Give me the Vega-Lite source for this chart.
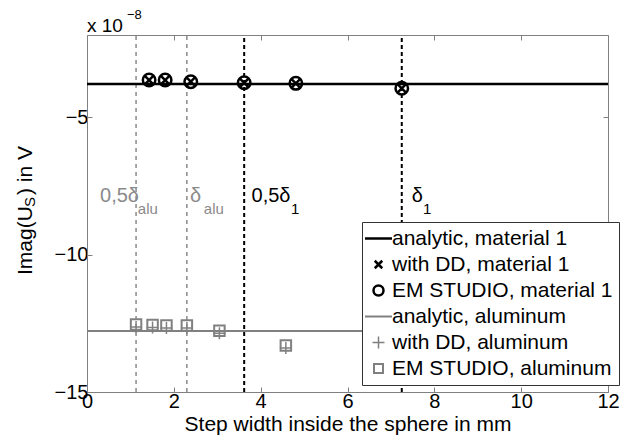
{
  "$schema": "https://vega.github.io/schema/vega-lite/v6.json",
  "width": 521,
  "height": 357,
  "autosize": {"type": "none"},
  "padding": {"left": 87, "top": 35, "right": 30, "bottom": 52},
  "background": "white",
  "datasets": {
    "pts": [
      {"x": 1.43, "y": -3.64, "series": "with DD, material 1"},
      {"x": 1.80, "y": -3.64, "series": "with DD, material 1"},
      {"x": 2.39, "y": -3.70, "series": "with DD, material 1"},
      {"x": 3.62, "y": -3.74, "series": "with DD, material 1"},
      {"x": 4.81, "y": -3.76, "series": "with DD, material 1"},
      {"x": 7.25, "y": -3.94, "series": "with DD, material 1"},
      {"x": 1.43, "y": -3.64, "series": "EM STUDIO, material 1"},
      {"x": 1.80, "y": -3.64, "series": "EM STUDIO, material 1"},
      {"x": 2.39, "y": -3.70, "series": "EM STUDIO, material 1"},
      {"x": 3.62, "y": -3.74, "series": "EM STUDIO, material 1"},
      {"x": 4.81, "y": -3.76, "series": "EM STUDIO, material 1"},
      {"x": 7.25, "y": -3.94, "series": "EM STUDIO, material 1"},
      {"x": 1.13, "y": -12.63, "series": "with DD, aluminum"},
      {"x": 1.51, "y": -12.65, "series": "with DD, aluminum"},
      {"x": 1.83, "y": -12.67, "series": "with DD, aluminum"},
      {"x": 2.30, "y": -12.67, "series": "with DD, aluminum"},
      {"x": 3.05, "y": -12.86, "series": "with DD, aluminum"},
      {"x": 4.58, "y": -13.40, "series": "with DD, aluminum"},
      {"x": 1.13, "y": -12.54, "series": "EM STUDIO, aluminum"},
      {"x": 1.51, "y": -12.56, "series": "EM STUDIO, aluminum"},
      {"x": 1.83, "y": -12.58, "series": "EM STUDIO, aluminum"},
      {"x": 2.30, "y": -12.58, "series": "EM STUDIO, aluminum"},
      {"x": 3.05, "y": -12.77, "series": "EM STUDIO, aluminum"},
      {"x": 4.58, "y": -13.31, "series": "EM STUDIO, aluminum"}
    ],
    "lines": [
      {"x": 0, "y": -3.78, "series": "analytic, material 1"},
      {"x": 12, "y": -3.78, "series": "analytic, material 1"},
      {"x": 0, "y": -12.78, "series": "analytic, aluminum"},
      {"x": 12, "y": -12.78, "series": "analytic, aluminum"}
    ],
    "delta": [
      {"x": 1.13, "g": "alu"},
      {"x": 2.30, "g": "alu"},
      {"x": 3.62, "g": "mat1"},
      {"x": 7.25, "g": "mat1"}
    ],
    "ann": [
      {"x": 0.30, "y": -8.08, "t": "0,5δ", "g": "alu", "k": "main"},
      {"x": 1.17, "y": -8.52, "t": "alu", "g": "alu", "k": "sub"},
      {"x": 2.37, "y": -8.08, "t": "δ", "g": "alu", "k": "main"},
      {"x": 2.69, "y": -8.52, "t": "alu", "g": "alu", "k": "sub"},
      {"x": 3.79, "y": -8.08, "t": "0,5δ", "g": "mat1", "k": "main"},
      {"x": 4.70, "y": -8.52, "t": "1", "g": "mat1", "k": "sub"},
      {"x": 7.48, "y": -8.08, "t": "δ", "g": "mat1", "k": "main"},
      {"x": 7.74, "y": -8.52, "t": "1", "g": "mat1", "k": "sub"},
      {"x": 0.0, "y": -1.9, "t": "x 10", "g": "exp", "k": "main"},
      {"x": 0.92, "y": -1.4, "t": "−8", "g": "exp", "k": "sup"},
      {"x": -1.267, "y": -10.74, "t": "Imag(U", "g": "ytitle", "k": "main"},
      {"x": -1.19, "y": -8.26, "t": "S", "g": "ytitle", "k": "sub"},
      {"x": -1.267, "y": -7.83, "t": ") in V", "g": "ytitle", "k": "main"}
    ]
  },
  "layer": [
    {
      "data": {"name": "delta"},
      "encoding": {
        "x": {"field": "x", "type": "quantitative", "scale": {"domain": [0, 12], "nice": false, "zero": false},
              "axis": {"orient": "top", "values": [0, 2, 4, 6, 8, 10, 12], "labels": false, "domain": false, "title": null, "tickSize": -5, "grid": false}},
        "y": {"datum": -15, "type": "quantitative", "scale": {"domain": [-15, -2], "nice": false, "zero": false},
              "axis": {"orient": "right", "values": [-15, -10, -5], "labels": false, "domain": false, "title": null, "tickSize": -5, "grid": false}},
        "y2": {"datum": -2}
      },
      "layer": [
        {
          "transform": [{"filter": "datum.g == 'alu'"}],
          "mark": {"type": "rule", "color": "#8a8a8a", "strokeWidth": 1.5, "strokeDash": [4, 4]}
        },
        {
          "transform": [{"filter": "datum.g == 'mat1'"}],
          "mark": {"type": "rule", "color": "#000000", "strokeWidth": 2, "strokeDash": [4, 3]}
        }
      ]
    },
    {
      "encoding": {
        "x": {"field": "x", "type": "quantitative", "scale": {"domain": [0, 12], "nice": false, "zero": false},
              "axis": {"orient": "bottom", "values": [0, 2, 4, 6, 8, 10, 12], "format": "d", "title": "Step width inside the sphere in mm", "tickSize": -5, "labelPadding": 4, "titlePadding": 2, "labelFlush": false, "labelOverlap": false, "grid": false}},
        "y": {"field": "y", "type": "quantitative", "scale": {"domain": [-15, -2], "nice": false, "zero": false},
              "axis": {"orient": "left", "values": [-15, -10, -5], "format": "d", "title": null, "tickSize": -5, "labelPadding": 4, "labelFlush": false, "labelOverlap": false, "grid": false}},
        "color": {
          "field": "series", "type": "nominal",
          "scale": {
            "domain": ["analytic, material 1", "with DD, material 1", "EM STUDIO, material 1", "analytic, aluminum", "with DD, aluminum", "EM STUDIO, aluminum"],
            "range": ["#000000", "#000000", "#000000", "#808080", "#808080", "#808080"]
          },
          "legend": {
            "orient": "none", "legendX": 275, "legendY": 187, "title": null, "direction": "vertical",
            "labelFont": "Liberation Sans", "labelFontSize": 21, "labelColor": "#000000", "labelLimit": 400,
            "symbolSize": 729, "labelOffset": 3, "rowPadding": 4, "padding": 6,
            "strokeColor": "#333333", "fillColor": "#ffffff",
            "encode": {
              "symbols": {
                "update": {
                  "shape": {"signal": "datum.value == 'with DD, material 1' ? 'M-1,-1L1,1M1,-1L-1,1' : datum.value == 'EM STUDIO, material 1' ? 'circle' : datum.value == 'with DD, aluminum' ? 'M-1,0L1,0M0,-1L0,1' : datum.value == 'EM STUDIO, aluminum' ? 'square' : 'stroke'"},
                  "size": {"signal": "datum.value == 'with DD, material 1' ? 56 : datum.value == 'EM STUDIO, material 1' ? 100 : datum.value == 'with DD, aluminum' ? 144 : datum.value == 'EM STUDIO, aluminum' ? 81 : 729"},
                  "strokeWidth": {"signal": "datum.value == 'with DD, aluminum' ? 1.5 : (datum.value == 'EM STUDIO, aluminum' || datum.value == 'analytic, aluminum') ? 2 : 2.5"},
                  "stroke": {"signal": "indexof(['analytic, aluminum', 'with DD, aluminum', 'EM STUDIO, aluminum'], datum.value) >= 0 ? '#808080' : '#000000'"},
                  "fill": {"value": "transparent"},
                  "opacity": {"value": 1}
                }
              }
            }
          }
        }
      },
      "layer": [
        {
          "data": {"name": "lines"},
          "transform": [{"filter": "datum.series == 'analytic, aluminum'"}],
          "mark": {"type": "line", "strokeWidth": 2}
        },
        {
          "data": {"name": "lines"},
          "transform": [{"filter": "datum.series == 'analytic, material 1'"}],
          "mark": {"type": "line", "strokeWidth": 2.5}
        },
        {
          "data": {"name": "pts"},
          "transform": [{"filter": "datum.series == 'EM STUDIO, aluminum'"}],
          "mark": {"type": "point", "shape": "square", "size": 110, "strokeWidth": 2, "filled": false, "opacity": 1}
        },
        {
          "data": {"name": "pts"},
          "transform": [{"filter": "datum.series == 'with DD, aluminum'"}],
          "mark": {"type": "point", "shape": "M-1,0L1,0M0,-1L0,1", "size": 144, "strokeWidth": 1.5, "filled": false, "opacity": 1}
        },
        {
          "data": {"name": "pts"},
          "transform": [{"filter": "datum.series == 'EM STUDIO, material 1'"}],
          "mark": {"type": "point", "shape": "circle", "size": 156, "strokeWidth": 2.5, "filled": false, "opacity": 1}
        },
        {
          "data": {"name": "pts"},
          "transform": [{"filter": "datum.series == 'with DD, material 1'"}],
          "mark": {"type": "point", "shape": "M-1,-1L1,1M1,-1L-1,1", "size": 64, "strokeWidth": 2.5, "filled": false, "opacity": 1}
        },
        {
          "data": {"name": "ann"},
          "transform": [{"filter": "datum.g == 'alu' && datum.k == 'main'"}],
          "mark": {"type": "text", "align": "left", "baseline": "alphabetic", "font": "Liberation Sans", "fontSize": 20},
          "encoding": {"text": {"field": "t"}, "color": {"value": "#8a8a8a"}}
        },
        {
          "data": {"name": "ann"},
          "transform": [{"filter": "datum.g == 'alu' && datum.k == 'sub'"}],
          "mark": {"type": "text", "align": "left", "baseline": "alphabetic", "font": "Liberation Sans", "fontSize": 15},
          "encoding": {"text": {"field": "t"}, "color": {"value": "#8a8a8a"}}
        },
        {
          "data": {"name": "ann"},
          "transform": [{"filter": "datum.g == 'mat1' && datum.k == 'main'"}],
          "mark": {"type": "text", "align": "left", "baseline": "alphabetic", "font": "Liberation Sans", "fontSize": 20},
          "encoding": {"text": {"field": "t"}, "color": {"value": "#000000"}}
        },
        {
          "data": {"name": "ann"},
          "transform": [{"filter": "datum.g == 'mat1' && datum.k == 'sub'"}],
          "mark": {"type": "text", "align": "left", "baseline": "alphabetic", "font": "Liberation Sans", "fontSize": 15},
          "encoding": {"text": {"field": "t"}, "color": {"value": "#000000"}}
        },
        {
          "data": {"name": "ann"},
          "transform": [{"filter": "datum.g == 'exp' && datum.k == 'main'"}],
          "mark": {"type": "text", "align": "left", "baseline": "alphabetic", "font": "Liberation Sans", "fontSize": 19},
          "encoding": {"text": {"field": "t"}, "color": {"value": "#000000"}}
        },
        {
          "data": {"name": "ann"},
          "transform": [{"filter": "datum.g == 'exp' && datum.k == 'sup'"}],
          "mark": {"type": "text", "align": "left", "baseline": "alphabetic", "font": "Liberation Sans", "fontSize": 13},
          "encoding": {"text": {"field": "t"}, "color": {"value": "#000000"}}
        },
        {
          "data": {"name": "ann"},
          "transform": [{"filter": "datum.g == 'ytitle' && datum.k == 'main'"}],
          "mark": {"type": "text", "align": "left", "baseline": "alphabetic", "angle": 270, "font": "Liberation Sans", "fontSize": 21},
          "encoding": {"text": {"field": "t"}, "color": {"value": "#000000"}}
        },
        {
          "data": {"name": "ann"},
          "transform": [{"filter": "datum.g == 'ytitle' && datum.k == 'sub'"}],
          "mark": {"type": "text", "align": "left", "baseline": "alphabetic", "angle": 270, "font": "Liberation Sans", "fontSize": 15},
          "encoding": {"text": {"field": "t"}, "color": {"value": "#000000"}}
        }
      ]
    }
  ],
  "resolve": {"axis": {"x": "independent", "y": "independent"}},
  "config": {
    "view": {"stroke": "#808080", "strokeWidth": 1},
    "axis": {
      "labelFont": "Liberation Sans", "labelFontSize": 20, "labelColor": "#000000",
      "titleFont": "Liberation Sans", "titleFontSize": 21, "titleFontWeight": "normal", "titleColor": "#000000",
      "domainColor": "#808080", "tickColor": "#808080", "grid": false
    }
  }
}
